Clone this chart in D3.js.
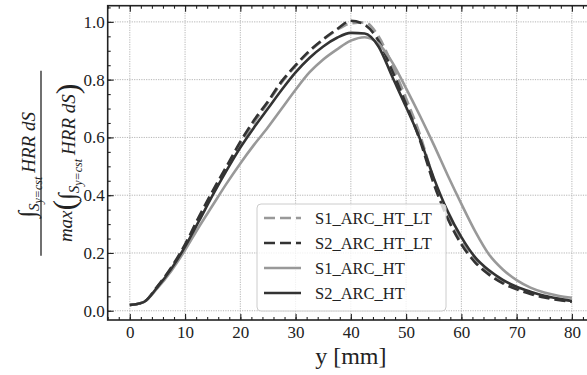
<!DOCTYPE html>
<html>
<head>
<meta charset="utf-8">
<script src="https://cdn.jsdelivr.net/npm/d3@7"></script>
<style>
  body { margin: 0; background: #fff; }
  svg { display: block; }
  .tick text { font-family: "Liberation Serif", "Times New Roman", Times, "DejaVu Serif", serif; font-size: 17px; fill: #222; }
</style>
</head>
<body>
<div id="chart"></div>
<script>
  /**
   * DATA
   * */
  const yPos = [0, 2.5, 5, 7.5, 10, 12.5, 15, 17.5, 20, 22.5, 25, 27.5, 30, 32.5, 35, 37.5, 40,
    42.5, 45, 47.5, 50, 52.5, 55, 57.5, 60, 62.5, 65, 67.5, 70, 72.5, 75, 77.5, 80];

  const s1_arc_ht_lt = [0.020, 0.030, 0.083, 0.147, 0.226, 0.318, 0.408, 0.493, 0.577, 0.652, 0.720, 0.790, 0.847, 0.897, 0.938, 0.972, 0.995,
    0.998, 0.950, 0.850, 0.735, 0.610, 0.455, 0.335, 0.240, 0.175, 0.132, 0.100, 0.078, 0.062, 0.050, 0.040, 0.033];
  const s2_arc_ht_lt = [0.020, 0.030, 0.085, 0.150, 0.230, 0.325, 0.415, 0.500, 0.585, 0.660, 0.725, 0.795, 0.850, 0.900, 0.940, 0.975, 1.004,
    0.990, 0.935, 0.830, 0.715, 0.590, 0.440, 0.320, 0.230, 0.167, 0.125, 0.095, 0.074, 0.058, 0.046, 0.037, 0.031];
  const s1_arc_ht = [0.020, 0.030, 0.078, 0.138, 0.210, 0.290, 0.365, 0.440, 0.510, 0.575, 0.635, 0.700, 0.765, 0.825, 0.870, 0.905, 0.935,
    0.947, 0.925, 0.860, 0.770, 0.675, 0.575, 0.470, 0.370, 0.275, 0.195, 0.143, 0.106, 0.080, 0.063, 0.052, 0.045];
  const s2_arc_ht = [0.020, 0.030, 0.082, 0.145, 0.222, 0.310, 0.400, 0.485, 0.565, 0.635, 0.700, 0.765, 0.825, 0.875, 0.915, 0.945, 0.962,
    0.960, 0.915, 0.810, 0.705, 0.595, 0.460, 0.345, 0.255, 0.185, 0.140, 0.107, 0.083, 0.066, 0.052, 0.042, 0.034];

  const seriesNames = ["S1_ARC_HT_LT", "S2_ARC_HT_LT", "S1_ARC_HT", "S2_ARC_HT"];
  const seriesValues = [s1_arc_ht_lt, s2_arc_ht_lt, s1_arc_ht, s2_arc_ht];
  const seriesColors = ["#999999", "#333333", "#999999", "#333333"];
  const seriesDash = ["11,5", "11,5", null, null];

  const xTicks = [0, 10, 20, 30, 40, 50, 60, 70, 80];
  const yTicks = [0.0, 0.2, 0.4, 0.6, 0.8, 1.0];

  /**
   * CONSTANTS
   * */
  const width = 587, height = 375;
  const plot = { left: 107.7, right: 594, top: 5.7, bottom: 320 };
  const fontFam = "\"Liberation Serif\", \"Times New Roman\", Times, \"DejaVu Serif\", serif";

  const svg = d3.select("#chart").append("svg")
    .attr("width", width)
    .attr("height", height);

  const xScale = d3.scaleLinear().domain([-4, 84]).range([plot.left, plot.right]);
  const yScale = d3.scaleLinear().domain([-0.032, 1.056]).range([plot.bottom, plot.top]);

  // grid
  const grid = svg.append("g").attr("class", "grid");
  grid.selectAll("line.gx").data(xTicks).join("line")
    .attr("class", "gx")
    .attr("x1", d => xScale(d)).attr("x2", d => xScale(d))
    .attr("y1", plot.top).attr("y2", plot.bottom)
    .attr("stroke", "#b5b5b5").attr("stroke-width", 1).attr("stroke-dasharray", "1.2,1.2");
  grid.selectAll("line.gy").data(yTicks).join("line")
    .attr("class", "gy")
    .attr("x1", plot.left).attr("x2", plot.right)
    .attr("y1", d => yScale(d)).attr("y2", d => yScale(d))
    .attr("stroke", "#b5b5b5").attr("stroke-width", 1).attr("stroke-dasharray", "1.2,1.2");

  // lines
  const lineFunc = d3.line()
    .x((d, i) => xScale(yPos[i]))
    .y(d => yScale(d))
    .curve(d3.curveMonotoneX);

  svg.append("defs").append("clipPath").attr("id", "clip")
    .append("rect")
    .attr("x", plot.left).attr("y", plot.top)
    .attr("width", plot.right - plot.left).attr("height", plot.bottom - plot.top);

  svg.append("g").attr("clip-path", "url(#clip)")
    .selectAll("path.trend")
    .data(seriesValues)
    .join("path")
    .attr("class", "trend")
    .attr("fill", "none")
    .attr("stroke", (d, i) => seriesColors[i])
    .attr("stroke-width", 2.6)
    .attr("stroke-dasharray", (d, i) => seriesDash[i])
    .attr("d", lineFunc);

  // axes (ticks pointing inward)
  const minorX = d3.range(-4, 85, 2);
  const minorY = d3.range(-0.0, 1.051, 0.05);

  function styleAxis(g) {
    g.attr("font-family", null);
    g.select(".domain").remove();
    g.selectAll(".tick line").attr("stroke", "#222").attr("stroke-width", 1.1);
  }

  svg.append("g")
    .attr("transform", `translate(0,${plot.bottom})`)
    .call(d3.axisBottom(xScale).tickValues(minorX).tickSize(-3).tickFormat(""))
    .call(styleAxis);
  svg.append("g")
    .attr("class", "x-axis")
    .attr("transform", `translate(0,${plot.bottom})`)
    .call(d3.axisBottom(xScale).tickValues(xTicks).tickSize(-6).tickPadding(6).tickFormat(d3.format("d")))
    .call(styleAxis);

  svg.append("g")
    .attr("transform", `translate(0,${plot.top})`)
    .call(d3.axisTop(xScale).tickValues(minorX).tickSize(-3).tickFormat(""))
    .call(styleAxis);
  svg.append("g")
    .attr("transform", `translate(0,${plot.top})`)
    .call(d3.axisTop(xScale).tickValues(xTicks).tickSize(-6).tickFormat(""))
    .call(styleAxis);

  svg.append("g")
    .attr("transform", `translate(${plot.left},0)`)
    .call(d3.axisLeft(yScale).tickValues(minorY).tickSize(-3).tickFormat(""))
    .call(styleAxis);
  svg.append("g")
    .attr("class", "y-axis")
    .attr("transform", `translate(${plot.left},0)`)
    .call(d3.axisLeft(yScale).tickValues(yTicks).tickSize(-6).tickPadding(3).tickFormat(d3.format(".1f")))
    .call(styleAxis);

  // spines (right one falls outside the picture)
  svg.append("rect")
    .attr("x", plot.left).attr("y", plot.top)
    .attr("width", plot.right - plot.left).attr("height", plot.bottom - plot.top)
    .attr("fill", "none").attr("stroke", "#222").attr("stroke-width", 1.6);

  // x label
  svg.append("text")
    .attr("x", xScale(40)).attr("y", 364)
    .attr("text-anchor", "middle")
    .attr("font-family", fontFam).attr("font-size", 24).attr("fill", "#222")
    .text("y [mm]");

  // y label: fraction
  const yl = svg.append("g")
    .attr("transform", `translate(41,${(plot.top + plot.bottom) / 2}) rotate(-90)`)
    .attr("font-family", fontFam).attr("fill", "#222");

  yl.append("line")
    .attr("x1", -93).attr("x2", 92).attr("y1", 0).attr("y2", 0)
    .attr("stroke", "#111").attr("stroke-width", 1.2);

  function integralPart(t) {
    t.append("tspan").attr("font-size", 24).text("\u222B");
    t.append("tspan").attr("font-size", 15).attr("font-style", "italic").attr("dy", 4).text("S");
    t.append("tspan").attr("font-size", 12).attr("font-style", "italic").attr("dy", 2.5).text("y=cst");
    t.append("tspan").attr("font-size", 19).attr("font-style", "italic").attr("dy", -6.5).attr("dx", 4).text("HRR dS");
  }

  const num = yl.append("text").attr("x", -2).attr("y", -6).attr("text-anchor", "middle");
  integralPart(num);

  const den = yl.append("text").attr("x", 0).attr("y", 31).attr("text-anchor", "middle");
  den.append("tspan").attr("font-size", 19).attr("font-style", "italic").text("max");
  den.append("tspan").attr("font-size", 32).attr("dy", 3).text("(");
  den.append("tspan").attr("dy", -3).text("");
  integralPart(den);
  den.append("tspan").attr("font-size", 32).attr("dy", 3).text(")");

  // legend
  const legend = svg.append("g").attr("class", "legend");
  legend.append("rect")
    .attr("x", 257).attr("y", 204).attr("width", 189).attr("height", 107)
    .attr("rx", 4)
    .attr("fill", "#fff").attr("fill-opacity", 0.8)
    .attr("stroke", "#cccccc").attr("stroke-width", 1);

  const items = legend.selectAll("g.item")
    .data(seriesNames)
    .join("g")
    .attr("class", "item")
    .attr("transform", (d, i) => `translate(0,${218 + i * 25})`);

  items.append("line")
    .attr("x1", 264).attr("x2", 301)
    .attr("stroke", (d, i) => seriesColors[i])
    .attr("stroke-width", 2.6)
    .attr("stroke-dasharray", (d, i) => seriesDash[i]);

  items.append("text")
    .attr("x", 315).attr("dy", "0.35em")
    .attr("font-family", fontFam).attr("font-size", 16.5).attr("fill", "#222")
    .text(d => d);
</script>
</body>
</html>
